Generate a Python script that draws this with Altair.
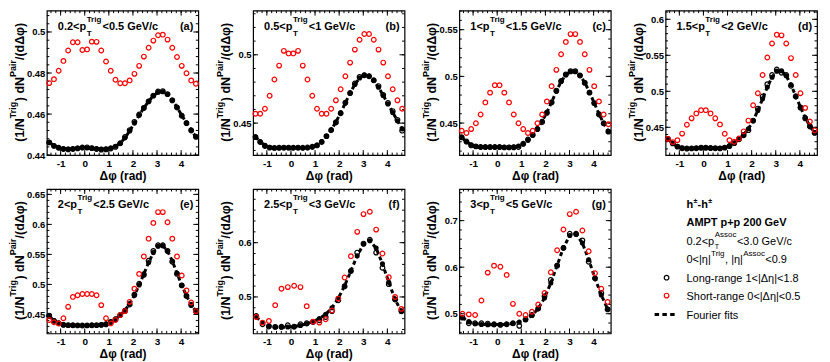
import altair as alt
import pandas as pd

FONT = "Liberation Sans"
W, H = 152, 145
XMIN, XMAX = -1.5708, 4.7124
XTICKS = [-1, 0, 1, 2, 3, 4]

dphi32 = [-1.473, -1.276, -1.080, -0.884, -0.687, -0.491, -0.295, -0.098,
          0.098, 0.295, 0.491, 0.687, 0.884, 1.080, 1.276, 1.473,
          1.669, 1.865, 2.062, 2.258, 2.454, 2.651, 2.847, 3.043,
          3.240, 3.436, 3.633, 3.829, 4.025, 4.222, 4.418, 4.614]
dphi24 = [-1.440, -1.178, -0.916, -0.654, -0.393, -0.131, 0.131, 0.393,
          0.654, 0.916, 1.178, 1.440, 1.702, 1.963, 2.225, 2.487,
          2.749, 3.011, 3.272, 3.534, 3.796, 4.058, 4.320, 4.581]

# ---- (a) 0.2<pT<0.5
a_short = [0.4751, 0.4770, 0.4811, 0.4859, 0.4910, 0.4950, 0.4950, 0.4912,
           0.4915, 0.4953, 0.4952, 0.4910, 0.4856, 0.4811, 0.4767, 0.4750,
           0.4750, 0.4764, 0.4796, 0.4835, 0.4880, 0.4923, 0.4958, 0.4984,
           0.4987, 0.4963, 0.4923, 0.4878, 0.4835, 0.4799, 0.4764, 0.4748]
a_long = [0.4462, 0.4445, 0.4436, 0.4430, 0.4428, 0.4430, 0.4433, 0.4437,
          0.4438, 0.4434, 0.4430, 0.4427, 0.4428, 0.4432, 0.4440, 0.4458,
          0.4488, 0.4522, 0.4562, 0.4598, 0.4630, 0.4662, 0.4690, 0.4710,
          0.4712, 0.4697, 0.4667, 0.4632, 0.4592, 0.4556, 0.4520, 0.4490]
a_fit = [0.4463, 0.4446, 0.4436, 0.4431, 0.4430, 0.4431, 0.4434, 0.4436,
         0.4436, 0.4434, 0.4431, 0.4430, 0.4431, 0.4435, 0.4443, 0.4458,
         0.4484, 0.4518, 0.4556, 0.4594, 0.4630, 0.4662, 0.4689, 0.4706,
         0.4709, 0.4696, 0.4668, 0.4633, 0.4594, 0.4557, 0.4522, 0.4488]

# ---- (b) 0.5<pT<1
b_short = [0.4569, 0.4569, 0.4605, 0.4700, 0.4819, 0.4921, 0.5029, 0.5010,
           0.5010, 0.5029, 0.4921, 0.4819, 0.4700, 0.4605, 0.4569, 0.4569,
           0.4605, 0.4667, 0.4748, 0.4843, 0.4943, 0.5038, 0.5110, 0.5152,
           0.5152, 0.5110, 0.5038, 0.4943, 0.4843, 0.4748, 0.4667, 0.4605]
b_long = [0.4398, 0.4362, 0.4333, 0.4321, 0.4319, 0.4320, 0.4321, 0.4321,
          0.4320, 0.4321, 0.4320, 0.4322, 0.4327, 0.4337, 0.4362, 0.4405,
          0.4450, 0.4505, 0.4572, 0.4650, 0.4720, 0.4790, 0.4838, 0.4850,
          0.4843, 0.4814, 0.4771, 0.4707, 0.4648, 0.4588, 0.4524, 0.4445]
b_fit = [0.4400, 0.4364, 0.4337, 0.4323, 0.4318, 0.4318, 0.4319, 0.4320,
         0.4320, 0.4319, 0.4318, 0.4319, 0.4325, 0.4340, 0.4366, 0.4403,
         0.4450, 0.4508, 0.4575, 0.4648, 0.4720, 0.4783, 0.4830, 0.4852,
         0.4845, 0.4812, 0.4762, 0.4702, 0.4640, 0.4578, 0.4518, 0.4458]

# ---- (c) 1<pT<1.5
c_short = [0.4418, 0.4394, 0.4436, 0.4498, 0.4592, 0.4721, 0.4826, 0.4906,
           0.4906, 0.4826, 0.4721, 0.4592, 0.4498, 0.4436, 0.4394, 0.4418,
           0.4498, 0.4592, 0.4732, 0.4895, 0.5070, 0.5237, 0.5369, 0.5453,
           0.5453, 0.5369, 0.5237, 0.5070, 0.4895, 0.4732, 0.4592, 0.4488]
c_long = [0.4348, 0.4303, 0.4261, 0.4251, 0.4244, 0.4244, 0.4244, 0.4244,
          0.4244, 0.4240, 0.4240, 0.4240, 0.4244, 0.4279, 0.4324, 0.4373,
          0.4436, 0.4512, 0.4610, 0.4721, 0.4847, 0.4951, 0.5021, 0.5056,
          0.5056, 0.5010, 0.4930, 0.4826, 0.4714, 0.4592, 0.4498, 0.4408]
c_fit = [0.4345, 0.4300, 0.4268, 0.4250, 0.4243, 0.4241, 0.4241, 0.4241,
         0.4241, 0.4241, 0.4242, 0.4245, 0.4255, 0.4276, 0.4315, 0.4370,
         0.4440, 0.4520, 0.4615, 0.4725, 0.4840, 0.4945, 0.5015, 0.5050,
         0.5050, 0.5010, 0.4935, 0.4830, 0.4715, 0.4600, 0.4495, 0.4410]

# ---- (d) 1.5<pT<2
d_short = [0.4340, 0.4295, 0.4322, 0.4413, 0.4535, 0.4625, 0.4693, 0.4738,
           0.4738, 0.4693, 0.4625, 0.4540, 0.4410, 0.4322, 0.4300, 0.4345,
           0.4444, 0.4593, 0.4806, 0.4973, 0.5226, 0.5470, 0.5664, 0.5786,
           0.5777, 0.5664, 0.5461, 0.5226, 0.4973, 0.4770, 0.4580, 0.4458]
d_long = [0.4340, 0.4277, 0.4232, 0.4210, 0.4205, 0.4207, 0.4210, 0.4218,
          0.4218, 0.4212, 0.4210, 0.4208, 0.4218, 0.4240, 0.4280, 0.4335,
          0.4390, 0.4460, 0.4593, 0.4760, 0.4928, 0.5099, 0.5226, 0.5303,
          0.5258, 0.5226, 0.5077, 0.4928, 0.4774, 0.4625, 0.4512, 0.4422]
d_fit = [0.4335, 0.4278, 0.4235, 0.4213, 0.4206, 0.4206, 0.4208, 0.4212,
         0.4213, 0.4211, 0.4209, 0.4210, 0.4218, 0.4238, 0.4278, 0.4333,
         0.4398, 0.4480, 0.4590, 0.4735, 0.4895, 0.5060, 0.5195, 0.5280,
         0.5285, 0.5215, 0.5090, 0.4935, 0.4780, 0.4635, 0.4515, 0.4425]

# ---- (e) 2<pT<2.5
e_short = [0.4408, 0.4370, 0.4350, 0.4436, 0.4627, 0.4792, 0.4820, 0.4840,
           0.4840, 0.4840, 0.4820, 0.4655, 0.4436, 0.4350, 0.4408, 0.4490,
           0.4556, 0.4710, 0.4929, 0.5175, 0.5466, 0.5762, 0.6025, 0.6205,
           0.6205, 0.6036, 0.5762, 0.5466, 0.5148, 0.4900, 0.4699, 0.4556]
e_long = [0.4480, 0.4392, 0.4353, 0.4326, 0.4322, 0.4320, 0.4318, 0.4315,
          0.4318, 0.4320, 0.4322, 0.4326, 0.4335, 0.4375, 0.4420, 0.4490,
          0.4556, 0.4666, 0.4830, 0.5011, 0.5159, 0.5395, 0.5559, 0.5652,
          0.5652, 0.5559, 0.5378, 0.5175, 0.4984, 0.4808, 0.4655, 0.4556]
e_fit = [0.4470, 0.4400, 0.4355, 0.4330, 0.4320, 0.4317, 0.4316, 0.4316,
         0.4316, 0.4317, 0.4320, 0.4328, 0.4345, 0.4375, 0.4420, 0.4485,
         0.4570, 0.4680, 0.4820, 0.4990, 0.5175, 0.5365, 0.5530, 0.5635,
         0.5645, 0.5555, 0.5390, 0.5185, 0.4985, 0.4810, 0.4665, 0.4550]

# ---- (f) 2.5<pT<3
f_short = [0.4630, 0.4527, 0.4558, 0.4848, 0.5152, 0.5182, 0.5206, 0.5182,
           0.4830, 0.4545, 0.4527, 0.4588, 0.4752, 0.4970, 0.5358, 0.5752,
           0.6200, 0.6527, 0.6570, 0.6242, 0.5800, 0.5364, 0.5000, 0.4780]
f_long = [0.4648, 0.4497, 0.4455, 0.4448, 0.4450, 0.4479, 0.4450, 0.4497,
          0.4515, 0.4539, 0.4570, 0.4630, 0.4739, 0.4939, 0.5194, 0.5479,
          0.5818, 0.5982, 0.6055, 0.5818, 0.5539, 0.5236, 0.4952, 0.4739]
f_fit = [0.4630, 0.4530, 0.4470, 0.4445, 0.4440, 0.4445, 0.4455, 0.4475,
         0.4505, 0.4545, 0.4600, 0.4680, 0.4800, 0.4975, 0.5205, 0.5480,
         0.5760, 0.5975, 0.6035, 0.5900, 0.5610, 0.5270, 0.4955, 0.4730]

# ---- (g) 3<pT<5
g_short = [0.5000, 0.4986, 0.4972, 0.5283, 0.5883, 0.6032, 0.6010, 0.5834,
           0.5212, 0.5000, 0.4972, 0.5042, 0.5198, 0.5445, 0.5890, 0.6364,
           0.6809, 0.7141, 0.7190, 0.6788, 0.6343, 0.5869, 0.5537, 0.5254]
g_long = [0.4915, 0.4795, 0.4795, 0.4795, 0.4788, 0.4774, 0.4760, 0.4774,
          0.4795, 0.4739, 0.4880, 0.4972, 0.5113, 0.5375, 0.5728, 0.6032,
          0.6413, 0.6717, 0.6717, 0.6576, 0.6117, 0.5763, 0.5445, 0.5092]
g_fit = [0.4920, 0.4830, 0.4785, 0.4770, 0.4765, 0.4765, 0.4768, 0.4775,
         0.4790, 0.4820, 0.4870, 0.4960, 0.5110, 0.5340, 0.5660, 0.6040,
         0.6420, 0.6680, 0.6710, 0.6520, 0.6160, 0.5760, 0.5400, 0.5100]

pt_lo = ["0.2", "0.5", "1", "1.5", "2", "2.5", "3"]
pt_hi = ["0.5", "1", "1.5", "2", "2.5", "3", "5"]
letters = ["(a)", "(b)", "(c)", "(d)", "(e)", "(f)", "(g)"]
ydoms = [[0.44, 0.5104], [0.4266, 0.5323], [0.4157, 0.5704], [0.4114, 0.612],
         [0.4183, 0.659], [0.4327, 0.699], [0.4576, 0.768]]
yticks = [[0.44, 0.46, 0.48, 0.5], [0.45, 0.5], [0.45, 0.5, 0.55],
          [0.45, 0.5, 0.55, 0.6], [0.45, 0.5, 0.55, 0.6, 0.65], [0.5, 0.6],
          [0.5, 0.6, 0.7]]
ysteps = [0.004, 0.01, 0.01, 0.01, 0.01, 0.02, 0.02]

series = [
    (dphi32, a_short, a_long, a_fit), (dphi32, b_short, b_long, b_fit),
    (dphi32, c_short, c_long, c_fit), (dphi32, d_short, d_long, d_fit),
    (dphi32, e_short, e_long, e_fit), (dphi24, f_short, f_long, f_fit),
    (dphi24, g_short, g_long, g_fit),
]

legend_title = ["h", "±", "-h", "±"]
legend_sub = "AMPT p+p 200 GeV"
legend_labels = ["Long-range 1<|Δη|<1.8", "Short-range 0<|Δη|<0.5", "Fourier fits"]

# Arial / Liberation Sans advance widths (per 1000 em)
AWB = {' ': 278, '(': 333, ')': 333, '+': 584, ',': 278, '-': 333, '.': 278, '/': 278,
       '<': 584, 'A': 722, 'G': 778, 'N': 722, 'P': 667, 'T': 611, 'V': 667,
       'a': 556, 'c': 556, 'd': 611, 'e': 556, 'g': 611, 'h': 611, 'i': 278, 'o': 611,
       'p': 611, 'r': 389, 's': 556, '|': 280, '±': 549, 'Δ': 612, 'η': 611, 'φ': 720}
AWR = {' ': 278, '(': 333, ')': 333, ',': 278, '-': 333, '.': 278, '/': 278, '<': 584,
       'A': 667, 'G': 778, 'T': 611, 'V': 667, 'a': 556, 'c': 500, 'e': 556, 'g': 556,
       'i': 222, 'o': 556, 'p': 556, 'r': 333, 's': 500, '|': 260, 'η': 556, 'Δ': 668}


def tw(s, size, bold=True):
    tab = AWB if bold else AWR
    return sum(tab.get(ch, 556) for ch in s) * size / 1000.0


DUMMY = pd.DataFrame({"k": [0]})
BLACK = "#000000"
RED = "#ff0000"


def txt(s, x, y, size, bold=True, align="left", angle=0):
    mk = dict(text=s, font=FONT, fontSize=size, fontWeight="bold" if bold else "normal",
              align=align, baseline="alphabetic", color=BLACK)
    if angle:
        mk["angle"] = angle
    return alt.Chart(DUMMY).mark_text(**mk).encode(x=alt.value(x), y=alt.value(y))


def frange(a, b, step):
    out = []
    n = int(round((b - a) / step))
    for i in range(n + 1):
        out.append(round(a + i * step, 6))
    return out


def make_panel(i):
    xv, sv, lv, fv = series[i]
    xs = alt.Scale(domain=[XMIN, XMAX], nice=False, zero=False)
    ys = alt.Scale(domain=ydoms[i], nice=False, zero=False)
    xaxis = alt.Axis(values=XTICKS, title="Δφ (rad)", grid=False, domain=False, ticks=False,
                     tickSize=0, labelPadding=3, labelFontSize=10, titleFontSize=12,
                     titlePadding=2,
                     labelExpr="(datum.value < 0 ? '-' : '') + abs(datum.value)")
    yaxis = alt.Axis(values=yticks[i], title=None, format=".2~f", grid=False, domain=False,
                     ticks=False, tickSize=0, labelPadding=2, labelFontSize=9.5)
    df = pd.DataFrame({"dphi": xv, "short": sv, "long": lv, "fit": fv})
    X = alt.X("dphi:Q", scale=xs, axis=xaxis)
    base = alt.Chart(df)
    layers = []
    # ticks (inside frame, all four sides)
    lo, hi = ydoms[i]
    st = ysteps[i]
    first = round(int(lo / st + 0.9999) * st, 6)
    yminor = [v for v in frange(first, hi, st) if lo <= v <= hi]
    xminor = [v for v in frange(-1.4, 4.6, 0.2)]
    for vals, ln in ((yticks[i], 5), (yminor, 2.5)):
        tdf = alt.Chart(pd.DataFrame({"v": vals}))
        Yv = alt.Y("v:Q", scale=ys, axis=yaxis)
        layers.append(tdf.mark_rule(color=BLACK, strokeWidth=1).encode(
            y=Yv, x=alt.value(0), x2=alt.value(ln)))
        layers.append(tdf.mark_rule(color=BLACK, strokeWidth=1).encode(
            y=Yv, x=alt.value(W - ln), x2=alt.value(W)))
    for vals, ln in ((XTICKS, 5), (xminor, 2.5)):
        tdf = alt.Chart(pd.DataFrame({"v": vals}))
        Xv = alt.X("v:Q", scale=xs, axis=xaxis)
        layers.append(tdf.mark_rule(color=BLACK, strokeWidth=1).encode(
            x=Xv, y=alt.value(H), y2=alt.value(H - ln)))
        layers.append(tdf.mark_rule(color=BLACK, strokeWidth=1).encode(
            x=Xv, y=alt.value(0), y2=alt.value(ln)))
    # data
    layers.append(base.mark_point(shape="circle", filled=True, color=BLACK, size=26,
                                  opacity=1).encode(
        x=X, y=alt.Y("fit:Q", scale=ys, axis=yaxis)))
    layers.append(base.mark_line(color=BLACK, strokeWidth=3, strokeDash=[4, 3]).encode(
        x=X, y=alt.Y("fit:Q", scale=ys, axis=yaxis)))
    layers.append(base.mark_point(shape="circle", filled=False, color=BLACK, size=22,
                                  strokeWidth=1.2, opacity=1).encode(
        x=X, y=alt.Y("long:Q", scale=ys, axis=yaxis)))
    layers.append(base.mark_point(shape="circle", filled=False, color=RED, size=22,
                                  strokeWidth=1.2, opacity=1).encode(
        x=X, y=alt.Y("short:Q", scale=ys, axis=yaxis)))
    # panel label  lo<p_T^Trig<hi GeV/c
    x0 = 11
    s1 = pt_lo[i] + "<p"
    xp = x0 + tw(s1, 11) + 0.5
    layers.append(txt(s1, x0, 19, 11))
    layers.append(txt("Trig", xp, 11, 8))
    layers.append(txt("T", xp, 25, 8))
    layers.append(txt("<" + pt_hi[i] + " GeV/c", xp + tw("Trig", 8) + 0.8, 19, 11))
    layers.append(txt(letters[i], W - 5, 19, 11, align="right"))
    # y title (1/N^Trig) dN^Pair/(dΔφ), rotated
    pieces = [("(1/N", 12.5, False), ("Trig", 9, True), (") dN", 12.5, False),
              ("Pair", 9, True), ("/(dΔφ)", 12.5, False)]
    L = sum(tw(p, s) for p, s, _ in pieces)
    ycur = H / 2 + L / 2
    for p, s, sup in pieces:
        layers.append(txt(p, -30.5 if sup else -23, ycur, s, angle=270))
        ycur -= tw(p, s)
    return alt.layer(*layers).properties(width=W, height=H)


def make_legend():
    LX = 21
    layers = []
    # h±-h±
    x = LX
    layers.append(txt(legend_title[0], x, 19, 11))
    x += tw("h", 11) + 0.3
    layers.append(txt(legend_title[1], x, 14, 7))
    x += tw("±", 7) + 0.3
    layers.append(txt(legend_title[2], x, 19, 11))
    x += tw("-h", 11) + 0.3
    layers.append(txt(legend_title[3], x, 14, 7))
    layers.append(txt(legend_sub, LX, 37, 11))
    # 0.2<pT^Assoc<3.0 GeV/c
    s = "0.2<p"
    x = LX + tw(s, 11, False) + 0.5
    layers.append(txt(s, LX, 56, 11, bold=False))
    layers.append(txt("Assoc", x, 48, 8, bold=False))
    layers.append(txt("T", x, 60, 7, bold=False))
    layers.append(txt("<3.0 GeV/c", x + tw("Assoc", 8, False) + 0.5, 56, 11, bold=False))
    # 0<|η|^Trig, |η|^Assoc<0.9
    x = LX
    for p, sup in (("0<|η|", False), ("Trig", True), (", |η|", False), ("Assoc", True),
                   ("<0.9", False)):
        if sup:
            layers.append(txt(p, x + 0.3, 67.5, 8, bold=False))
            x += tw(p, 8, False) + 0.6
        else:
            layers.append(txt(p, x, 74.5, 11, bold=False))
            x += tw(p, 11, False)
    # markers
    layers.append(alt.Chart(DUMMY).mark_point(shape="circle", filled=False, color=BLACK,
                                              size=22, strokeWidth=1.2, opacity=1).encode(
        x=alt.value(1), y=alt.value(89)))
    layers.append(txt(legend_labels[0], LX, 93, 11, bold=False))
    layers.append(alt.Chart(DUMMY).mark_point(shape="circle", filled=False, color=RED,
                                              size=22, strokeWidth=1.2, opacity=1).encode(
        x=alt.value(1), y=alt.value(107)))
    layers.append(txt(legend_labels[1], LX, 111, 11, bold=False))
    layers.append(alt.Chart(DUMMY).mark_rule(color=BLACK, strokeWidth=3,
                                             strokeDash=[4.5, 3.3]).encode(
        x=alt.value(-11), x2=alt.value(11), y=alt.value(126)))
    layers.append(txt(legend_labels[2], LX, 130, 11, bold=False))
    return alt.layer(*layers).properties(width=W, height=H,
                                         view=alt.ViewBackground(stroke="transparent"))


charts = [make_panel(i) for i in range(7)] + [make_legend()]
chart = alt.concat(*charts, columns=4, spacing={"row": 34, "column": 55},
                   bounds="flush").properties(
    padding={"left": 0, "top": 0, "right": 0, "bottom": 0}
).configure_view(stroke=BLACK, strokeWidth=1.2).configure_axis(
    labelFont=FONT, titleFont=FONT, labelColor=BLACK, titleColor=BLACK,
    labelFontWeight="bold", titleFontWeight="bold")

chart.save("out.html", embed_options={"renderer": "svg", "actions": False})
